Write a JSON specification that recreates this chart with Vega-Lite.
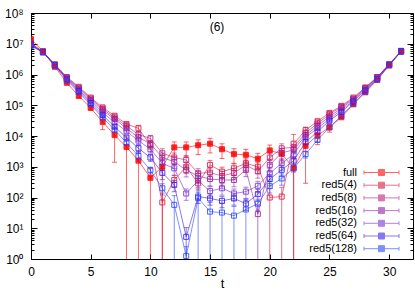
{
"$schema":"https://vega.github.io/schema/vega-lite/v6.json",
"width":382,"height":246,"autosize":"none",
"padding":{"left":31,"top":13,"right":2,"bottom":32},
"background":"white",
"title":{"text":"(6)","offset":-27,"fontSize":12,"fontWeight":"normal","font":"Liberation Sans","dx":-5,"color":"black"},
"config":{"view":{"stroke":"black","strokeWidth":1},
"axis":{"domain":false,"grid":false,"labelFont":"Liberation Sans","labelFontSize":12,"labelColor":"black","tickColor":"black","titleFont":"Liberation Sans","titleFontWeight":"normal","titleFontSize":13,"titleColor":"black","labelOverlap":false,"labelBound":false,"labelFlush":false}},
"data":{"values":[
{"s":"full","t":0,"y":1.41e7,"e":7e5},{"s":"full","t":1,"y":5.75e6,"e":2.9e5},{"s":"full","t":2,"y":1.78e6,"e":8.9e4},{"s":"full","t":3,"y":5.37e5,"e":2.7e4},{"s":"full","t":4,"y":2.0e5,"e":2.0e4},{"s":"full","t":5,"y":8.13e4,"e":8.1e3},{"s":"full","t":6,"y":2.88e4,"e":1.27e4},{"s":"full","t":7,"y":1.07e4,"e":9.3e3},{"s":"full","t":8,"y":4370,"e":4369.99},{"s":"full","t":9,"y":1580,"e":1579.99},{"s":"full","t":10,"y":437,"e":436.99},{"s":"full","t":11,"y":1000,"e":999.99},{"s":"full","t":12,"y":4270,"e":2135},{"s":"full","t":13,"y":4270,"e":2135},{"s":"full","t":14,"y":5010,"e":2505},{"s":"full","t":15,"y":5620,"e":2810},{"s":"full","t":16,"y":3720,"e":1860},{"s":"full","t":17,"y":2570,"e":1285},{"s":"full","t":18,"y":2450,"e":1225},{"s":"full","t":19,"y":1820,"e":910},{"s":"full","t":20,"y":3390,"e":1695},{"s":"full","t":21,"y":2630,"e":1315},{"s":"full","t":22,"y":891,"e":890.99},{"s":"full","t":23,"y":4790,"e":4500},{"s":"full","t":24,"y":10500,"e":5250},{"s":"full","t":25,"y":19100,"e":5730},{"s":"full","t":26,"y":40700,"e":3300},{"s":"full","t":27,"y":1.07e5,"e":8600},{"s":"full","t":28,"y":2.63e5,"e":2.1e4},{"s":"full","t":29,"y":6.61e5,"e":5.3e4},{"s":"full","t":30,"y":1.95e6,"e":1.6e5},{"s":"full","t":31,"y":5.89e6,"e":4.7e5},
{"s":"red5(4)","t":0,"y":1.05e7,"e":5.2e5},{"s":"red5(4)","t":1,"y":5.5e6,"e":2.8e5},{"s":"red5(4)","t":2,"y":2.14e6,"e":1.1e5},{"s":"red5(4)","t":3,"y":8.32e5,"e":4.2e4},{"s":"red5(4)","t":4,"y":3.98e5,"e":2.0e4},{"s":"red5(4)","t":5,"y":1.78e5,"e":8.9e3},{"s":"red5(4)","t":6,"y":8.51e4,"e":1.02e4},{"s":"red5(4)","t":7,"y":4.57e4,"e":5.5e3},{"s":"red5(4)","t":8,"y":2.45e4,"e":2.9e3},{"s":"red5(4)","t":9,"y":1.78e4,"e":4.4e3},{"s":"red5(4)","t":10,"y":5010,"e":1250},{"s":"red5(4)","t":11,"y":69.2,"e":69.19},{"s":"red5(4)","t":12,"y":372,"e":149},{"s":"red5(4)","t":13,"y":1000,"e":400},{"s":"red5(4)","t":14,"y":288,"e":115},{"s":"red5(4)","t":15,"y":1150,"e":460},{"s":"red5(4)","t":16,"y":692,"e":277},{"s":"red5(4)","t":17,"y":891,"e":356},{"s":"red5(4)","t":18,"y":1290,"e":516},{"s":"red5(4)","t":19,"y":1000,"e":400},{"s":"red5(4)","t":20,"y":100,"e":99.99},{"s":"red5(4)","t":21,"y":107,"e":106.99},{"s":"red5(4)","t":22,"y":5620,"e":5619.99},{"s":"red5(4)","t":23,"y":1.55e4,"e":3900},{"s":"red5(4)","t":24,"y":3.02e4,"e":3600},{"s":"red5(4)","t":25,"y":5.62e4,"e":6700},{"s":"red5(4)","t":26,"y":9.55e4,"e":1.15e4},{"s":"red5(4)","t":27,"y":1.78e5,"e":8.9e3},{"s":"red5(4)","t":28,"y":3.8e5,"e":1.9e4},{"s":"red5(4)","t":29,"y":8.32e5,"e":4.2e4},{"s":"red5(4)","t":30,"y":2.14e6,"e":1.1e5},{"s":"red5(4)","t":31,"y":5.75e6,"e":2.9e5},
{"s":"red5(8)","t":0,"y":1.0e7,"e":5.0e5},{"s":"red5(8)","t":1,"y":5.5e6,"e":2.8e5},{"s":"red5(8)","t":2,"y":2.09e6,"e":1.0e5},{"s":"red5(8)","t":3,"y":7.94e5,"e":4.0e4},{"s":"red5(8)","t":4,"y":3.72e5,"e":1.9e4},{"s":"red5(8)","t":5,"y":1.66e5,"e":8.3e3},{"s":"red5(8)","t":6,"y":7.59e4,"e":9.1e3},{"s":"red5(8)","t":7,"y":3.98e4,"e":4.8e3},{"s":"red5(8)","t":8,"y":2.14e4,"e":2.6e3},{"s":"red5(8)","t":9,"y":1.12e4,"e":2.8e3},{"s":"red5(8)","t":10,"y":8320,"e":2100},{"s":"red5(8)","t":11,"y":2750,"e":1100},{"s":"red5(8)","t":12,"y":2000,"e":800},{"s":"red5(8)","t":13,"y":1660,"e":664},{"s":"red5(8)","t":14,"y":617,"e":247},{"s":"red5(8)","t":15,"y":646,"e":258},{"s":"red5(8)","t":16,"y":501,"e":200},{"s":"red5(8)","t":17,"y":631,"e":252},{"s":"red5(8)","t":18,"y":1120,"e":449},{"s":"red5(8)","t":19,"y":708,"e":283},{"s":"red5(8)","t":20,"y":2000,"e":800},{"s":"red5(8)","t":21,"y":3980,"e":1590},{"s":"red5(8)","t":22,"y":4270,"e":1070},{"s":"red5(8)","t":23,"y":1.26e4,"e":3100},{"s":"red5(8)","t":24,"y":2.57e4,"e":3100},{"s":"red5(8)","t":25,"y":5.01e4,"e":6000},{"s":"red5(8)","t":26,"y":8.91e4,"e":1.07e4},{"s":"red5(8)","t":27,"y":1.66e5,"e":8.3e3},{"s":"red5(8)","t":28,"y":3.63e5,"e":1.8e4},{"s":"red5(8)","t":29,"y":8.13e5,"e":4.1e4},{"s":"red5(8)","t":30,"y":2.14e6,"e":1.1e5},{"s":"red5(8)","t":31,"y":5.75e6,"e":2.9e5},
{"s":"red5(16)","t":0,"y":9.77e6,"e":4.9e5},{"s":"red5(16)","t":1,"y":5.37e6,"e":2.7e5},{"s":"red5(16)","t":2,"y":2.04e6,"e":1.0e5},{"s":"red5(16)","t":3,"y":7.59e5,"e":3.8e4},{"s":"red5(16)","t":4,"y":3.47e5,"e":1.7e4},{"s":"red5(16)","t":5,"y":1.51e5,"e":7.6e3},{"s":"red5(16)","t":6,"y":6.76e4,"e":8.1e3},{"s":"red5(16)","t":7,"y":3.55e4,"e":4.3e3},{"s":"red5(16)","t":8,"y":1.78e4,"e":2.1e3},{"s":"red5(16)","t":9,"y":8910,"e":2200},{"s":"red5(16)","t":10,"y":5620,"e":1400},{"s":"red5(16)","t":11,"y":2000,"e":800},{"s":"red5(16)","t":12,"y":1450,"e":578},{"s":"red5(16)","t":13,"y":776,"e":310},{"s":"red5(16)","t":14,"y":501,"e":200},{"s":"red5(16)","t":15,"y":398,"e":159},{"s":"red5(16)","t":16,"y":372,"e":149},{"s":"red5(16)","t":17,"y":372,"e":149},{"s":"red5(16)","t":18,"y":794,"e":318},{"s":"red5(16)","t":19,"y":28.8,"e":28.79},{"s":"red5(16)","t":20,"y":1150,"e":459},{"s":"red5(16)","t":21,"y":2820,"e":1130},{"s":"red5(16)","t":22,"y":3550,"e":887},{"s":"red5(16)","t":23,"y":1.05e4,"e":2600},{"s":"red5(16)","t":24,"y":2.14e4,"e":2600},{"s":"red5(16)","t":25,"y":4.27e4,"e":5100},{"s":"red5(16)","t":26,"y":7.94e4,"e":9500},{"s":"red5(16)","t":27,"y":1.55e5,"e":7.7e3},{"s":"red5(16)","t":28,"y":3.47e5,"e":1.7e4},{"s":"red5(16)","t":29,"y":7.94e5,"e":4.0e4},{"s":"red5(16)","t":30,"y":2.09e6,"e":1.0e5},{"s":"red5(16)","t":31,"y":5.62e6,"e":2.8e5},
{"s":"red5(32)","t":0,"y":9.33e6,"e":4.7e5},{"s":"red5(32)","t":1,"y":5.37e6,"e":2.7e5},{"s":"red5(32)","t":2,"y":2.0e6,"e":1.0e5},{"s":"red5(32)","t":3,"y":7.24e5,"e":3.6e4},{"s":"red5(32)","t":4,"y":3.16e5,"e":1.6e4},{"s":"red5(32)","t":5,"y":1.35e5,"e":6.7e3},{"s":"red5(32)","t":6,"y":5.75e4,"e":6.9e3},{"s":"red5(32)","t":7,"y":2.82e4,"e":3.4e3},{"s":"red5(32)","t":8,"y":1.41e4,"e":1.7e3},{"s":"red5(32)","t":9,"y":7080,"e":1800},{"s":"red5(32)","t":10,"y":3720,"e":930},{"s":"red5(32)","t":11,"y":1290,"e":515},{"s":"red5(32)","t":12,"y":891,"e":356},{"s":"red5(32)","t":13,"y":135,"e":54},{"s":"red5(32)","t":14,"y":355,"e":142},{"s":"red5(32)","t":15,"y":162,"e":65},{"s":"red5(32)","t":16,"y":200,"e":80},{"s":"red5(32)","t":17,"y":135,"e":54},{"s":"red5(32)","t":18,"y":155,"e":62},{"s":"red5(32)","t":19,"y":240,"e":96},{"s":"red5(32)","t":20,"y":617,"e":247},{"s":"red5(32)","t":21,"y":1290,"e":515},{"s":"red5(32)","t":22,"y":2570,"e":643},{"s":"red5(32)","t":23,"y":9120,"e":2300},{"s":"red5(32)","t":24,"y":1.78e4,"e":2100},{"s":"red5(32)","t":25,"y":3.63e4,"e":4400},{"s":"red5(32)","t":26,"y":6.92e4,"e":8300},{"s":"red5(32)","t":27,"y":1.41e5,"e":7.1e3},{"s":"red5(32)","t":28,"y":3.24e5,"e":1.6e4},{"s":"red5(32)","t":29,"y":7.59e5,"e":3.8e4},{"s":"red5(32)","t":30,"y":2.09e6,"e":1.0e5},{"s":"red5(32)","t":31,"y":5.62e6,"e":2.8e5},
{"s":"red5(64)","t":0,"y":8.91e6,"e":4.5e5},{"s":"red5(64)","t":1,"y":5.25e6,"e":2.6e5},{"s":"red5(64)","t":2,"y":2.0e6,"e":1.0e5},{"s":"red5(64)","t":3,"y":6.92e5,"e":3.5e4},{"s":"red5(64)","t":4,"y":2.88e5,"e":1.4e4},{"s":"red5(64)","t":5,"y":1.17e5,"e":5.9e3},{"s":"red5(64)","t":6,"y":4.79e4,"e":5.7e3},{"s":"red5(64)","t":7,"y":2.0e4,"e":2.4e3},{"s":"red5(64)","t":8,"y":8910,"e":1100},{"s":"red5(64)","t":9,"y":3980,"e":1000},{"s":"red5(64)","t":10,"y":2000,"e":500},{"s":"red5(64)","t":11,"y":631,"e":252},{"s":"red5(64)","t":12,"y":257,"e":103},{"s":"red5(64)","t":13,"y":5.25,"e":5.249},{"s":"red5(64)","t":14,"y":107,"e":43},{"s":"red5(64)","t":15,"y":93.3,"e":37},{"s":"red5(64)","t":16,"y":77.6,"e":31},{"s":"red5(64)","t":17,"y":93.3,"e":37},{"s":"red5(64)","t":18,"y":63.1,"e":25},{"s":"red5(64)","t":19,"y":129,"e":52},{"s":"red5(64)","t":20,"y":398,"e":159},{"s":"red5(64)","t":21,"y":794,"e":318},{"s":"red5(64)","t":22,"y":1580,"e":396},{"s":"red5(64)","t":23,"y":6310,"e":1600},{"s":"red5(64)","t":24,"y":1.38e4,"e":1700},{"s":"red5(64)","t":25,"y":3.16e4,"e":3800},{"s":"red5(64)","t":26,"y":6.03e4,"e":7200},{"s":"red5(64)","t":27,"y":1.32e5,"e":6.6e3},{"s":"red5(64)","t":28,"y":3.02e5,"e":1.5e4},{"s":"red5(64)","t":29,"y":7.24e5,"e":3.6e4},{"s":"red5(64)","t":30,"y":2.04e6,"e":1.0e5},{"s":"red5(64)","t":31,"y":5.62e6,"e":2.8e5},
{"s":"red5(128)","t":0,"y":8.51e6,"e":4.3e5},{"s":"red5(128)","t":1,"y":5.25e6,"e":2.6e5},{"s":"red5(128)","t":2,"y":1.95e6,"e":9.7e4},{"s":"red5(128)","t":3,"y":6.46e5,"e":3.2e4},{"s":"red5(128)","t":4,"y":2.63e5,"e":1.3e4},{"s":"red5(128)","t":5,"y":1.05e5,"e":5.2e3},{"s":"red5(128)","t":6,"y":3.98e4,"e":4.8e3},{"s":"red5(128)","t":7,"y":1.58e4,"e":1.9e3},{"s":"red5(128)","t":8,"y":6030,"e":720},{"s":"red5(128)","t":9,"y":2240,"e":560},{"s":"red5(128)","t":10,"y":776,"e":194},{"s":"red5(128)","t":11,"y":200,"e":80},{"s":"red5(128)","t":12,"y":57.5,"e":57.49},{"s":"red5(128)","t":13,"y":1.26,"e":1.2599},{"s":"red5(128)","t":14,"y":95.5,"e":95.49},{"s":"red5(128)","t":15,"y":34.7,"e":34.69},{"s":"red5(128)","t":16,"y":32.4,"e":32.39},{"s":"red5(128)","t":17,"y":25.7,"e":25.69},{"s":"red5(128)","t":18,"y":40.7,"e":40.69},{"s":"red5(128)","t":19,"y":63.1,"e":25},{"s":"red5(128)","t":20,"y":234,"e":94},{"s":"red5(128)","t":21,"y":417,"e":167},{"s":"red5(128)","t":22,"y":891,"e":223},{"s":"red5(128)","t":23,"y":2570,"e":643},{"s":"red5(128)","t":24,"y":7410,"e":890},{"s":"red5(128)","t":25,"y":1.91e4,"e":2300},{"s":"red5(128)","t":26,"y":4.57e4,"e":5500},{"s":"red5(128)","t":27,"y":1.12e5,"e":5.6e3},{"s":"red5(128)","t":28,"y":2.75e5,"e":1.4e4},{"s":"red5(128)","t":29,"y":6.92e5,"e":3.5e4},{"s":"red5(128)","t":30,"y":2.04e6,"e":1.0e5},{"s":"red5(128)","t":31,"y":5.5e6,"e":2.7e5}
]},
"layer":[
{"mark":{"type":"errorbar","clip":true,"ticks":{"size":5,"opacity":0.6},"rule":{"opacity":0.6,"strokeWidth":1}},
"encoding":{
"x":{"field":"t","type":"quantitative","scale":{"domain":[0,32],"nice":false,"zero":false},"axis":null},
"y":{"field":"y","type":"quantitative","scale":{"type":"log","domain":[1,1e8]},"axis":null},
"yError":{"field":"e"},
"color":{"field":"s","type":"nominal","scale":{"domain":["full","red5(4)","red5(8)","red5(16)","red5(32)","red5(64)","red5(128)"],"range":["#ff0000","#dc143c","#be1e78","#961ea0","#7832d2","#3c1ee6","#2846ff"]}}}},
{"mark":{"type":"line","strokeWidth":1,"opacity":0.6,"clip":true},
"encoding":{
"x":{"field":"t","type":"quantitative","scale":{"domain":[0,32],"nice":false,"zero":false},"axis":{"orient":"bottom","values":[0,5,10,15,20,25,30],"tickSize":-5,"labelPadding":12,"title":"t","titlePadding":0}},
"y":{"field":"y","type":"quantitative","scale":{"type":"log","domain":[1,1e8]},"axis":{"orient":"left","title":null,"values":[1,2,3,4,5,6,7,8,9,10,20,30,40,50,60,70,80,90,100,200,300,400,500,600,700,800,900,1000,2000,3000,4000,5000,6000,7000,8000,9000,1e4,2e4,3e4,4e4,5e4,6e4,7e4,8e4,9e4,1e5,2e5,3e5,4e5,5e5,6e5,7e5,8e5,9e5,1e6,2e6,3e6,4e6,5e6,6e6,7e6,8e6,9e6,1e7,2e7,3e7,4e7,5e7,6e7,7e7,8e7,9e7,1e8],
"labelExpr":"abs(log(datum.value)/LN10 - round(log(datum.value)/LN10)) < 0.01 ? '10' + ['⁰','¹','²','³','⁴','⁵','⁶','⁷','⁸'][round(log(datum.value)/LN10)] : ''",
"tickSize":{"condition":{"test":"abs(log(datum.value)/LN10 - round(log(datum.value)/LN10)) < 0.01","value":-6},"value":-3},"labelPadding":14}},
"color":{"field":"s","type":"nominal","scale":{"domain":["full","red5(4)","red5(8)","red5(16)","red5(32)","red5(64)","red5(128)"],"range":["#ff0000","#dc143c","#be1e78","#961ea0","#7832d2","#3c1ee6","#2846ff"]}}}},
{"mark":{"type":"point","shape":"square","size":25,"strokeWidth":1,"filled":false,"opacity":0.85,"clip":true},
"encoding":{
"x":{"field":"t","type":"quantitative","scale":{"domain":[0,32],"nice":false,"zero":false},"axis":{"orient":"top","values":[0,5,10,15,20,25,30],"tickSize":-5,"labels":false,"title":null}},
"y":{"field":"y","type":"quantitative","scale":{"type":"log","domain":[1,1e8]},"axis":{"orient":"right","title":null,"labels":false,"values":[1,2,3,4,5,6,7,8,9,10,20,30,40,50,60,70,80,90,100,200,300,400,500,600,700,800,900,1000,2000,3000,4000,5000,6000,7000,8000,9000,1e4,2e4,3e4,4e4,5e4,6e4,7e4,8e4,9e4,1e5,2e5,3e5,4e5,5e5,6e5,7e5,8e5,9e5,1e6,2e6,3e6,4e6,5e6,6e6,7e6,8e6,9e6,1e7,2e7,3e7,4e7,5e7,6e7,7e7,8e7,9e7,1e8],
"tickSize":{"condition":{"test":"abs(log(datum.value)/LN10 - round(log(datum.value)/LN10)) < 0.01","value":-6},"value":-3}}},
"fill":{"condition":{"test":"datum.s === 'full'","value":"#ff0000"},"value":"transparent"},
"color":{"field":"s","type":"nominal","scale":{"domain":["full","red5(4)","red5(8)","red5(16)","red5(32)","red5(64)","red5(128)"],"range":["#ff0000","#dc143c","#be1e78","#961ea0","#7832d2","#3c1ee6","#2846ff"]},
"legend":{"orient":"none","legendX":345,"legendY":154,"title":null,"padding":0,"symbolType":"M-3.5,0H-0.6M0.6,0H3.5M-3.5,-0.4V0.4M3.5,-0.4V0.4M-0.6,-0.6H0.6V0.6H-0.6Z","symbolSize":100,"symbolStrokeWidth":1,"symbolOpacity":0.75,"labelAlign":"right","labelOffset":-30,"labelFontSize":11,"labelFont":"Liberation Sans","labelColor":"black","rowPadding":0.7,
"encode":{"symbols":{"fill":{"condition":{"test":"datum.value === 'full'","value":"#ff0000"},"value":"white"}}}}}}}
],
"resolve":{"axis":{"x":"independent","y":"independent"}}
}
